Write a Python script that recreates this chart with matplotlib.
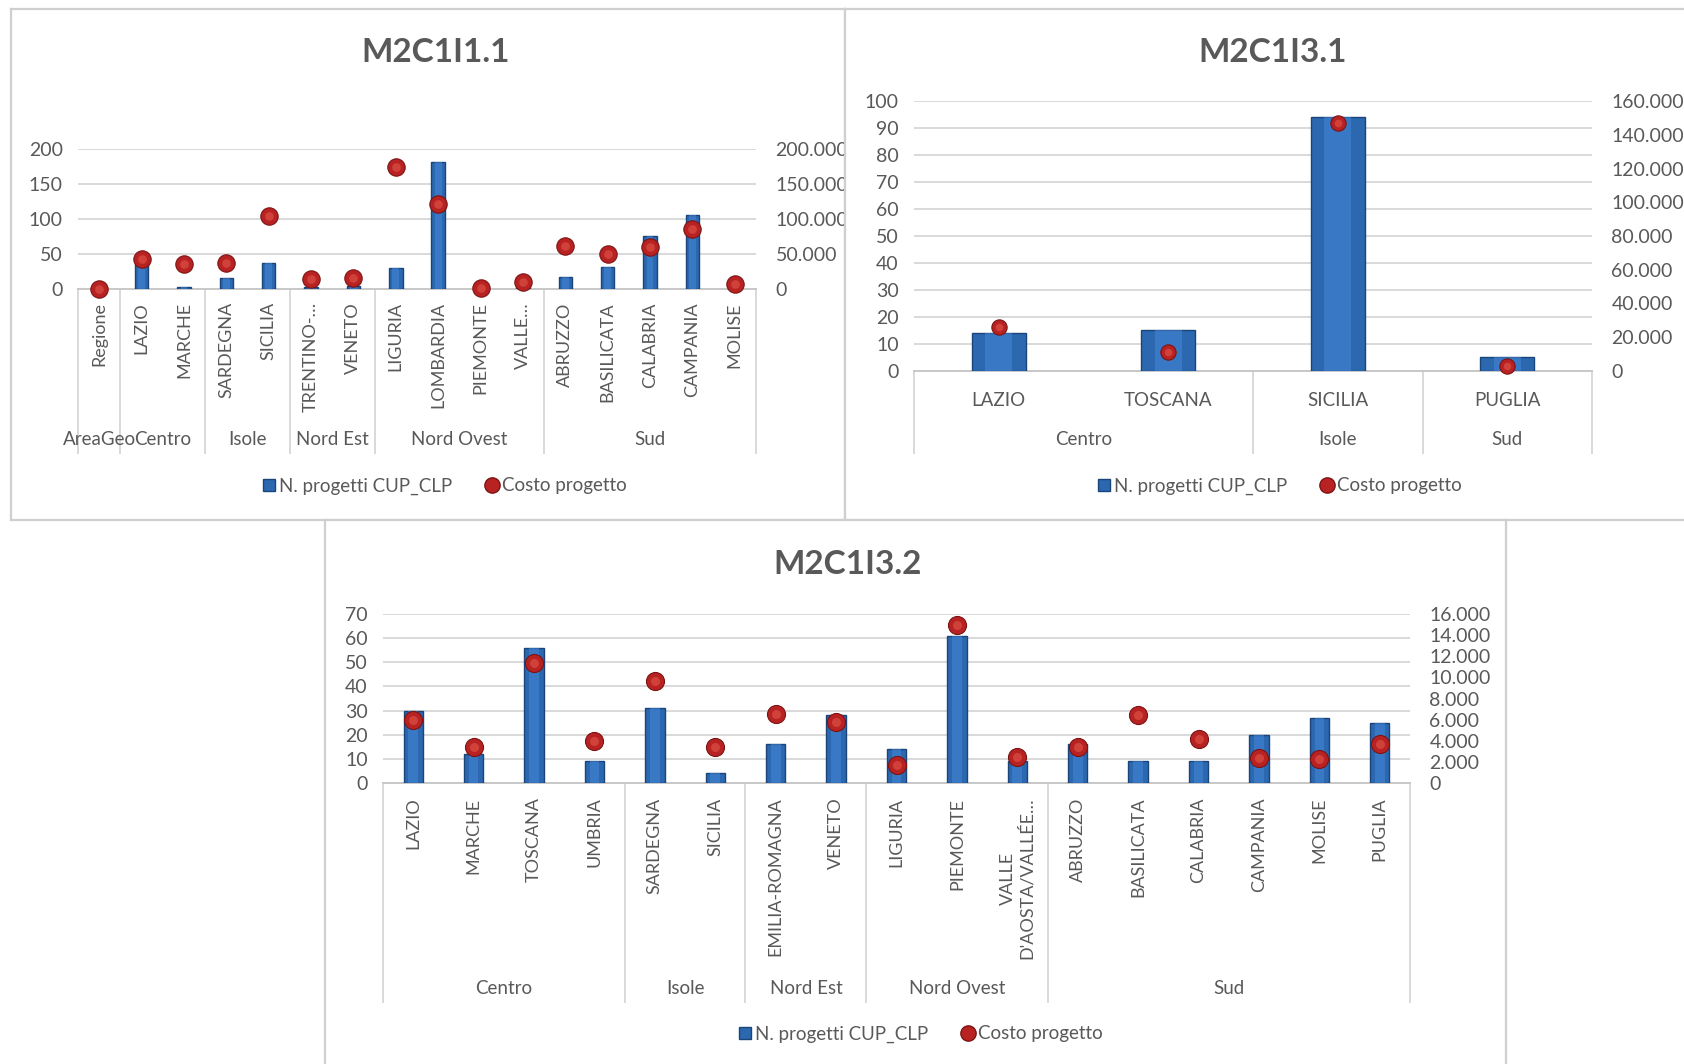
import numpy as np
import matplotlib
matplotlib.use("Agg")
import matplotlib.pyplot as plt
from matplotlib.lines import Line2D
from matplotlib.transforms import blended_transform_factory
from matplotlib.ticker import FuncFormatter, MultipleLocator

plt.rcParams['font.family'] = ['Lato', 'DejaVu Sans']

# ---------------- data ----------------
p1_title = "M2C1I1.1"
p1_regions = ["Regione", "LAZIO", "MARCHE", "SARDEGNA", "SICILIA", "TRENTINO-…", "VENETO",
              "LIGURIA", "LOMBARDIA", "PIEMONTE", "VALLE…", "ABRUZZO", "BASILICATA",
              "CALABRIA", "CAMPANIA", "MOLISE"]
p1_groups = ["AreaGeo", "Centro", "Isole", "Nord Est", "Nord Ovest", "Sud"]
p1_group_sizes = [1, 2, 2, 2, 4, 5]
p1_projects = [0, 35, 3, 15, 37, 3, 4, 30, 181, 1, 2, 17, 31, 75, 106, 2]
p1_cost = [0, 43000, 35500, 37000, 103500, 14500, 15500, 174000, 121000, 1000, 10500,
           61000, 49500, 60000, 85000, 7000]

p2_title = "M2C1I3.1"
p2_regions = ["LAZIO", "TOSCANA", "SICILIA", "PUGLIA"]
p2_groups = ["Centro", "Isole", "Sud"]
p2_group_sizes = [2, 1, 1]
p2_projects = [14, 15, 94, 5]
p2_cost = [26000, 11000, 147000, 3200]

p3_title = "M2C1I3.2"
p3_regions = ["LAZIO", "MARCHE", "TOSCANA", "UMBRIA", "SARDEGNA", "SICILIA",
              "EMILIA-ROMAGNA", "VENETO", "LIGURIA", "PIEMONTE", "VALLE\nD'AOSTA/VALLÉE…",
              "ABRUZZO", "BASILICATA", "CALABRIA", "CAMPANIA", "MOLISE", "PUGLIA"]
p3_groups = ["Centro", "Isole", "Nord Est", "Nord Ovest", "Sud"]
p3_group_sizes = [4, 2, 2, 3, 6]
p3_projects = [30, 12, 56, 9, 31, 4, 16, 28, 14, 61, 9, 16, 9, 9, 20, 27, 25]
p3_cost = [6000, 3400, 11400, 4000, 9700, 3400, 6500, 5800, 1700, 15000, 2500,
           3400, 6400, 4200, 2400, 2300, 3700]

legend_labels = ["N. progetti CUP_CLP", "Costo progetto"]

# ---------------- style ----------------
W, H = 1684, 1064
TXT = '#595959'
GRID = '#d9d9d9'
BAR = '#2c68b0'
BAR_EDGE = '#1b4479'
BAR_HI = '#4386d6'
MK = '#b82222'
MK_EDGE = '#7c1414'
MK_HI = '#e0574a'

fig = plt.figure(figsize=(W / 100, H / 100), dpi=100)
fig.patch.set_facecolor('white')


def fx(x):
    return x / W


def fy(y):
    return 1 - y / H


def it_fmt(v, pos):
    return f"{int(round(v)):,}".replace(",", ".")


def frame(left, top, right, bottom):
    a = fig.add_axes([fx(left), fy(bottom), fx(right - left), (bottom - top) / H])
    a.set_xticks([])
    a.set_yticks([])
    a.set_facecolor('white')
    for s in a.spines.values():
        s.set_color('#cfcfcf')
        s.set_linewidth(1.6)
    return a


def panel(box, title, title_xy, cats, groups, sizes, proj, cost,
          ymax, ystep, y2max, y2step, rotate, label_pad, cat_fs,
          group_y, sep_bottom, legend_xy, marker_ms):
    left, top, right, bottom = box
    ax = fig.add_axes([fx(left), fy(bottom), fx(right - left), (bottom - top) / H])
    n = len(cats)
    x = np.arange(n)
    ax.bar(x, proj, width=0.32, color=BAR, edgecolor=BAR_EDGE, linewidth=1.0, zorder=3)
    ax.bar(x, proj, width=0.16, color=BAR_HI, linewidth=0, zorder=3.5, alpha=0.55)
    ax.set_xlim(-0.5, n - 0.5)
    ax.set_ylim(0, ymax)
    ax.yaxis.set_major_locator(MultipleLocator(ystep))
    ax.yaxis.grid(True, color=GRID, linewidth=1.4)
    ax.set_axisbelow(True)
    for s in ['top', 'left', 'right']:
        ax.spines[s].set_visible(False)
    ax.spines['bottom'].set_color('#c8c8c8')
    ax.spines['bottom'].set_linewidth(1.4)
    ax.set_facecolor('none')
    ax.tick_params(axis='y', length=0, pad=11, labelsize=14, labelcolor=TXT)
    ax.set_xticks(x)
    ax.set_xticklabels(cats, rotation=90 if rotate else 0, multialignment='center')
    ax.tick_params(axis='x', length=0, pad=label_pad, labelsize=cat_fs, labelcolor=TXT)

    ax2 = ax.twinx()
    ax2.plot(x, cost, 'o', ms=marker_ms, mfc=MK, mec=MK_EDGE, mew=0.8,
             zorder=5, clip_on=False)
    ax2.plot(x, cost, 'o', ms=marker_ms * 0.5, mfc=MK_HI, mec='none', alpha=0.6,
             zorder=6, clip_on=False)
    ax2.set_ylim(0, y2max)
    ax2.yaxis.set_major_locator(MultipleLocator(y2step))
    ax2.yaxis.set_major_formatter(FuncFormatter(it_fmt))
    for s in ax2.spines.values():
        s.set_visible(False)
    ax2.tick_params(axis='y', length=0, pad=14, labelsize=14, labelcolor=TXT)

    tr = blended_transform_factory(ax.transData, fig.transFigure)
    bounds = [-0.5] + list(np.cumsum(sizes) - 0.5)
    for b in bounds:
        ax.plot([b, b], [fy(bottom), fy(sep_bottom)], transform=tr, color=GRID,
                linewidth=1.4, clip_on=False)
    for i, g in enumerate(groups):
        c = (bounds[i] + bounds[i + 1]) / 2
        ax.text(c, fy(group_y), g, transform=tr, ha='center', va='center',
                fontsize=13.5, color=TXT)

    fig.text(fx(title_xy[0]), fy(title_xy[1]), title, ha='center', va='center',
             fontsize=24, fontweight='bold', color=TXT)

    handles = [Line2D([], [], marker='s', ls='', mfc=BAR, mec=BAR_EDGE, ms=8),
               Line2D([], [], marker='o', ls='', mfc=MK, mec=MK_EDGE, ms=11)]
    ax2.legend(handles, legend_labels, loc='center',
               bbox_to_anchor=(fx(legend_xy[0]), fy(legend_xy[1])),
               bbox_transform=fig.transFigure, ncol=2, frameon=False,
               fontsize=13.5, labelcolor=TXT, handletextpad=0.05,
               columnspacing=1.6, handlelength=1.0)
    return ax, ax2


# panel 1
frame(11, 9, 845, 520)
panel((78, 148.7, 756, 289), p1_title, (436, 52), p1_regions, p1_groups, p1_group_sizes,
      p1_projects, p1_cost, 200, 50, 200000, 50000, True, 9.5, 13,
      439.5, 453, (443, 486), 12.5)

# panel 2
frame(845, 9, 1700, 520)
panel((914, 101, 1592, 371), p2_title, (1273, 52), p2_regions, p2_groups, p2_group_sizes,
      p2_projects, p2_cost, 100, 10, 160000, 20000, False, 15, 13.5,
      439.5, 453, (1278, 486), 11)

# panel 3
frame(325, 520, 1506, 1080)
panel((383, 614, 1410, 783), p3_title, (848, 565), p3_regions, p3_groups, p3_group_sizes,
      p3_projects, p3_cost, 70, 10, 16000, 2000, True, 10.5, 13,
      988, 1002, (919, 1034), 13)

fig.savefig("out.png", dpi=100, facecolor='white')
